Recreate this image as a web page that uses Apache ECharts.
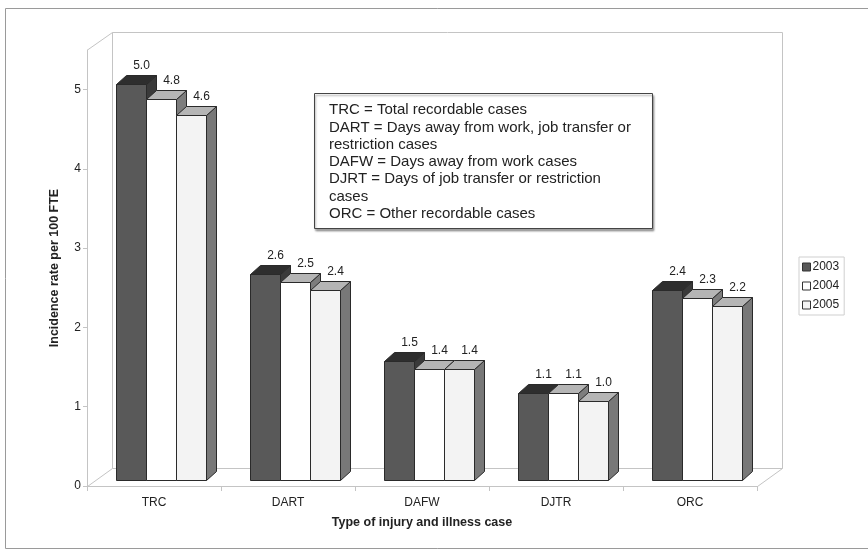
<!DOCTYPE html>
<html>
<head>
<meta charset="utf-8">
<title>Incidence rate per 100 FTE</title>
<script src="https://cdn.jsdelivr.net/npm/echarts@6/dist/echarts.min.js"></script>
<style>
  html, body { margin: 0; padding: 0; background: #fff; }
  #chart { width: 868px; height: 553px; }
</style>
</head>
<body>
<div id="chart"></div>
<script>
// data
var categories = ["TRC", "DART", "DAFW", "DJTR", "ORC"];
var years = ["2003", "2004", "2005"];
var rate2003 = [5.0, 2.6, 1.5, 1.1, 2.4];
var rate2004 = [4.8, 2.5, 1.4, 1.1, 2.3];
var rate2005 = [4.6, 2.4, 1.4, 1.0, 2.2];
var yTicks = [0, 1, 2, 3, 4, 5];
var noteLines = [
  "TRC = Total recordable cases",
  "DART = Days away from work, job transfer or",
  "restriction cases",
  "DAFW = Days away from work cases",
  "DJRT = Days of job transfer or restriction",
  "cases",
  "ORC = Other recordable cases"
];

var FONT = 'Arial, "Liberation Sans", sans-serif';

// 3D look: front / top / side colours per year
var faces = [
  { front: "#595959", top: "#2e2e2e", side: "#3a3a3a" },
  { front: "#ffffff", top: "#b5b5b5", side: "#7d7d7d" },
  { front: "#f3f3f3", top: "#b5b5b5", side: "#787878" }
];
var wallDepth = [25, -18];
var barShift = [7, -6];
var barDepth = [10, -9];
var groupRatio = 0.665;
var edgeColor = "#2a2a2a";
var wallColor = "#c4c4c4";

function barRenderer(k) {
  return function (params, api) {
    var cat = api.value(0);
    var val = api.value(1);
    var base = api.coord([cat, 0]);
    var top = api.coord([cat, val]);
    var band = api.size([1, 0])[0];
    var w = band * groupRatio / 3;
    var x0 = Math.round(base[0] - band * groupRatio / 2 + k * w + barShift[0]) + 0.5;
    var x1 = Math.round(x0 + w) + 0.5;
    var yb = Math.round(base[1] + barShift[1]) + 0.5;
    var yt = Math.round(top[1] + barShift[1]) + 0.5;
    var dx = barDepth[0], dy = barDepth[1];
    var c = faces[k];
    return {
      type: "group",
      children: [
        {
          type: "polygon",
          shape: { points: [[x1, yb], [x1 + dx, yb + dy], [x1 + dx, yt + dy], [x1, yt]] },
          style: { fill: c.side, stroke: edgeColor, lineWidth: 1 }
        },
        {
          type: "polygon",
          shape: { points: [[x0, yt], [x1, yt], [x1 + dx, yt + dy], [x0 + dx, yt + dy]] },
          style: { fill: c.top, stroke: edgeColor, lineWidth: 1 }
        },
        {
          type: "rect",
          shape: { x: x0, y: yt, width: x1 - x0, height: yb - yt },
          style: { fill: c.front, stroke: edgeColor, lineWidth: 1 }
        },
        {
          type: "text",
          z2: 10,
          style: {
            text: val.toFixed(1),
            x: (x0 + x1) / 2 + dx,
            y: yt + dy - 4,
            align: "center",
            verticalAlign: "bottom",
            fontFamily: FONT,
            fontSize: 12,
            fill: "#222"
          }
        }
      ]
    };
  };
}

// back wall, floor and side wall of the 3D box
function renderWalls(params, api) {
  var cs = params.coordSys;
  var L = cs.x, T = cs.y, R = cs.x + cs.width, B = cs.y + cs.height;
  var dx = wallDepth[0], dy = wallDepth[1];
  var st = { stroke: wallColor, lineWidth: 1, fill: null };
  return {
    type: "group",
    children: [
      { type: "rect", shape: { x: L + dx + 0.5, y: T + dy + 0.5, width: cs.width, height: cs.height }, style: { stroke: wallColor, lineWidth: 1, fill: "#fff" } },
      { type: "line", shape: { x1: L + 0.5, y1: T, x2: L + dx + 0.5, y2: T + dy + 0.5 }, style: st },
      { type: "line", shape: { x1: L + 0.5, y1: B + 0.5, x2: L + dx + 0.5, y2: B + dy + 0.5 }, style: st },
      { type: "line", shape: { x1: R + 0.5, y1: B + 0.5, x2: R + dx + 0.5, y2: B + dy + 0.5 }, style: st }
    ]
  };
}

function toPairs(arr) {
  return arr.map(function (v, i) { return [i, v]; });
}

var rates = [rate2003, rate2004, rate2005];

var series = [{
  type: "custom",
  name: "walls",
  silent: true,
  renderItem: renderWalls,
  data: [[0, 0]],
  z: 1
}];
years.forEach(function (y, k) {
  series.push({
    type: "custom",
    name: y,
    renderItem: barRenderer(k),
    encode: { x: 0, y: 1 },
    data: toPairs(rates[k]),
    itemStyle: { color: faces[k].front, borderColor: "#333", borderWidth: 1 },
    z: 2
  });
});

var chart = echarts.init(document.getElementById("chart"));
chart.setOption({
  animation: false,
  backgroundColor: "#fff",
  grid: { left: 87, right: 111, top: 50, bottom: 67 },
  legend: {
    data: years.map(function (y, k) {
      return { name: y, icon: "rect", itemStyle: { color: faces[k].front, borderColor: "#333", borderWidth: 1 } };
    }),
    orient: "vertical",
    left: 799,
    top: 257,
    itemWidth: 8,
    itemHeight: 8,
    itemGap: 7,
    padding: [4, 5, 4, 3],
    borderColor: "#cfcfcf",
    borderWidth: 1,
    textStyle: { fontFamily: FONT, fontSize: 12, color: "#222", padding: [0, 0, 0, -3] }
  },
  xAxis: {
    type: "category",
    data: categories,
    name: "Type of injury and illness case",
    nameLocation: "middle",
    nameGap: 30,
    nameTextStyle: { fontFamily: FONT, fontSize: 12.5, fontWeight: "bold", color: "#222" },
    axisLine: { show: true, lineStyle: { color: wallColor } },
    axisTick: { show: true, length: 5, lineStyle: { color: wallColor } },
    axisLabel: { fontFamily: FONT, fontSize: 12, color: "#222", margin: 11 },
    splitLine: { show: false }
  },
  yAxis: {
    type: "value",
    min: 0,
    max: 5.5,
    interval: 1,
    name: "Incidence rate per 100 FTE",
    nameLocation: "middle",
    nameRotate: 90,
    nameGap: 26,
    nameTextStyle: { fontFamily: FONT, fontSize: 12.5, fontWeight: "bold", color: "#222" },
    axisLine: { show: true, lineStyle: { color: wallColor } },
    axisTick: { show: true, length: 4, customValues: yTicks, lineStyle: { color: wallColor } },
    axisLabel: { fontFamily: FONT, fontSize: 12, color: "#222", margin: 6, customValues: yTicks },
    splitLine: { show: false }
  },
  graphic: [
    {
      type: "rect",
      shape: { x: 5.5, y: 8.5, width: 900, height: 540 },
      style: { fill: null, stroke: "#9a9a9a", lineWidth: 1 },
      silent: true,
      z: -10
    },
    {
      type: "rect",
      shape: { x: 314.5, y: 93.5, width: 338, height: 135 },
      style: { fill: "#fff", stroke: "#444", lineWidth: 1, shadowColor: "rgba(0,0,0,0.35)", shadowOffsetX: 1, shadowOffsetY: 2, shadowBlur: 2 },
      z: 50
    },
    {
      type: "text",
      x: 329,
      y: 101.5,
      style: {
        text: noteLines.join("\n"),
        fontFamily: FONT,
        fontSize: 15,
        lineHeight: 17.3,
        fill: "#222"
      },
      z: 51
    }
  ],
  series: series
});
</script>
</body>
</html>
